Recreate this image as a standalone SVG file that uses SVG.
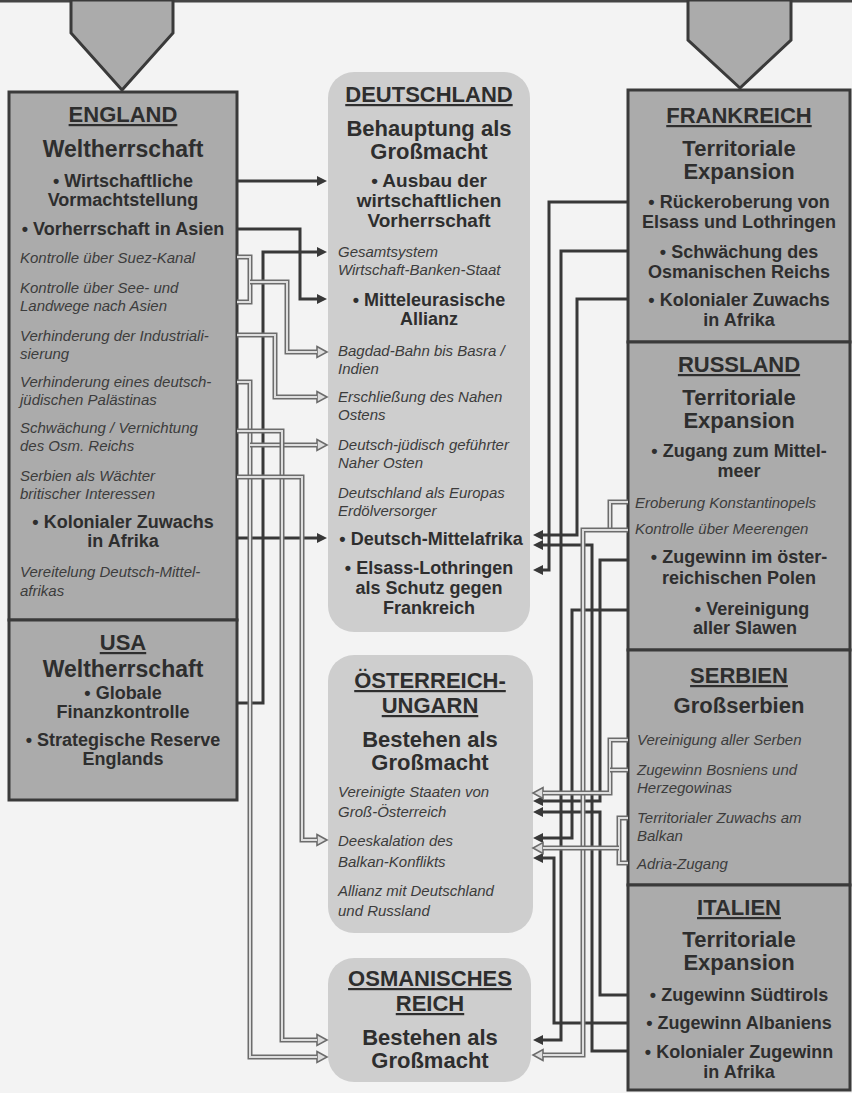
<svg xmlns="http://www.w3.org/2000/svg" xmlns:xlink="http://www.w3.org/1999/xlink" width="852" height="1093" viewBox="0 0 852 1093">
<style>
text{font-family:"Liberation Sans",Arial,sans-serif;fill:#2e2e2e}
.t{font-size:22px;font-weight:bold;text-anchor:middle;text-decoration:underline}
.h{font-size:22px;font-weight:bold;text-anchor:middle}
.b{font-size:18px;font-weight:bold;text-anchor:middle}
.b19{font-size:19px;font-weight:bold;text-anchor:middle}
.i{font-size:15px;font-style:italic;fill:#3c3c3c}
.box{fill:#ababab;stroke:#3a3a3a;stroke-width:3}
.rbox{fill:#cecece}
.d{fill:none;stroke:#383838;stroke-width:3}
.go{fill:none;stroke:#6c6c6c;stroke-width:5}
.gi{fill:none;stroke:#dedede;stroke-width:2}
</style>
<defs>
<marker id="ad" markerUnits="userSpaceOnUse" viewBox="0 0 10 10" refX="0" refY="5" markerWidth="10" markerHeight="10" orient="auto" overflow="visible">
<path d="M0,0 L10,5 L0,10 z" fill="#383838"/>
</marker>
<marker id="ag" markerUnits="userSpaceOnUse" viewBox="0 0 10 10" refX="0" refY="5" markerWidth="10" markerHeight="10" orient="auto" overflow="visible">
<path d="M0,-0.5 L10,5 L0,10.5 z" fill="#dedede" stroke="#6c6c6c" stroke-width="1.6" stroke-linejoin="miter"/>
</marker>
<path id="g1a" d="M237,257 H250 V302 H237"/>
<path id="g1b" d="M250,282 H287 V352 H317"/>
<path id="g2" d="M237,335 H275 V397 H317"/>
<path id="g3a" d="M237,382 H250 V1057 H317"/>
<path id="g3b" d="M250,445 H317"/>
<path id="g4" d="M237,431 H282 V1040 H317"/>
<path id="g5" d="M237,477 H302 V840 H317"/>
<path id="h1a" d="M628,502 H610 V530"/>
<path id="h1b" d="M628,530 H583 V1055 H543"/>
<path id="h2a" d="M628,740 H610 V793 H543"/>
<path id="h2b" d="M628,770 H610"/>
<path id="h3a" d="M628,818 H619 V863 H628"/>
<path id="h3b" d="M619,848 H543"/>
</defs>
<rect width="852" height="1093" fill="#f3f3f3"/>
<line x1="0" y1="1" x2="852" y2="1" stroke="#444" stroke-width="3"/>
<g id="pointer-left"><polygon points="71,0 173,0 173,33 122,90 71,33" class="box"/></g>
<g id="pointer-right"><polygon points="688,0 791,0 791,40 740,88 688,40" class="box"/></g>

<g id="deutschland">
<rect x="328" y="72" width="202" height="560" rx="26" class="rbox"/>
<text x="429" y="102" class="t">DEUTSCHLAND</text>
<text x="429" y="136" class="h">Behauptung als</text>
<text x="429" y="159" class="h">Großmacht</text>
<text x="429" y="187" class="b19">• Ausbau der</text>
<text x="429" y="207" class="b19">wirtschaftlichen</text>
<text x="429" y="227" class="b19">Vorherrschaft</text>
<text x="338" y="257" class="i">Gesamtsystem</text>
<text x="338" y="275" class="i">Wirtschaft-Banken-Staat</text>
<text x="429" y="306" class="b">• Mitteleurasische</text>
<text x="429" y="325" class="b">Allianz</text>
<text x="338" y="356" class="i">Bagdad-Bahn bis Basra /</text>
<text x="338" y="374" class="i">Indien</text>
<text x="338" y="402" class="i">Erschließung des Nahen</text>
<text x="338" y="420" class="i">Ostens</text>
<text x="338" y="450" class="i">Deutsch-jüdisch geführter</text>
<text x="338" y="468" class="i">Naher Osten</text>
<text x="338" y="498" class="i">Deutschland als Europas</text>
<text x="338" y="516" class="i">Erdölversorger</text>
<text x="431" y="545" class="b">• Deutsch-Mittelafrika</text>
<text x="429" y="574" class="b">• Elsass-Lothringen</text>
<text x="429" y="594" class="b">als Schutz gegen</text>
<text x="429" y="614" class="b">Frankreich</text>
</g>

<g id="oesterreich-ungarn">
<rect x="328" y="655" width="205" height="278" rx="26" class="rbox"/>
<text x="430" y="688" class="t">ÖSTERREICH-</text>
<text x="430" y="713" class="t">UNGARN</text>
<text x="430" y="747" class="h">Bestehen als</text>
<text x="430" y="770" class="h">Großmacht</text>
<text x="338" y="797" class="i">Vereinigte Staaten von</text>
<text x="338" y="817" class="i">Groß-Österreich</text>
<text x="338" y="846" class="i">Deeskalation des</text>
<text x="338" y="867" class="i">Balkan-Konflikts</text>
<text x="338" y="896" class="i">Allianz mit Deutschland</text>
<text x="338" y="916" class="i">und Russland</text>
</g>

<g id="osmanisches-reich">
<rect x="328" y="958" width="203" height="124" rx="26" class="rbox"/>
<text x="430" y="986" class="t">OSMANISCHES</text>
<text x="430" y="1011" class="t">REICH</text>
<text x="430" y="1045" class="h">Bestehen als</text>
<text x="430" y="1068" class="h">Großmacht</text>
</g>

<g id="england">
<rect x="9" y="92" width="228" height="528" class="box"/>
<text x="123" y="122" class="t">ENGLAND</text>
<text x="123" y="157" class="h" style="font-size:23px">Weltherrschaft</text>
<text x="123" y="187" class="b">• Wirtschaftliche</text>
<text x="123" y="206" class="b">Vormachtstellung</text>
<text x="123" y="235" class="b">• Vorherrschaft in Asien</text>
<text x="20" y="263" class="i">Kontrolle über Suez-Kanal</text>
<text x="20" y="293" class="i">Kontrolle über See- und</text>
<text x="20" y="311" class="i">Landwege nach Asien</text>
<text x="20" y="341" class="i">Verhinderung der Industriali-</text>
<text x="20" y="359" class="i">sierung</text>
<text x="20" y="387" class="i">Verhinderung eines deutsch-</text>
<text x="20" y="405" class="i">jüdischen Palästinas</text>
<text x="20" y="433" class="i">Schwächung / Vernichtung</text>
<text x="20" y="451" class="i">des Osm. Reichs</text>
<text x="20" y="481" class="i">Serbien als Wächter</text>
<text x="20" y="499" class="i">britischer Interessen</text>
<text x="123" y="528" class="b">• Kolonialer Zuwachs</text>
<text x="123" y="547" class="b">in Afrika</text>
<text x="20" y="577" class="i">Vereitelung Deutsch-Mittel-</text>
<text x="20" y="596" class="i">afrikas</text>
</g>

<g id="usa">
<rect x="9" y="620" width="228" height="180" class="box"/>
<text x="123" y="650" class="t">USA</text>
<text x="123" y="677" class="h" style="font-size:23px">Weltherrschaft</text>
<text x="123" y="699" class="b">• Globale</text>
<text x="123" y="718" class="b">Finanzkontrolle</text>
<text x="123" y="746" class="b">• Strategische Reserve</text>
<text x="123" y="765" class="b">Englands</text>
</g>

<g id="frankreich">
<rect x="628" y="90" width="222" height="252" class="box"/>
<text x="739" y="123" class="t">FRANKREICH</text>
<text x="739" y="156" class="h">Territoriale</text>
<text x="739" y="179" class="h">Expansion</text>
<text x="739" y="208" class="b">• Rückeroberung von</text>
<text x="739" y="228" class="b">Elsass und Lothringen</text>
<text x="739" y="258" class="b">• Schwächung des</text>
<text x="739" y="278" class="b">Osmanischen Reichs</text>
<text x="739" y="306" class="b">• Kolonialer Zuwachs</text>
<text x="739" y="326" class="b">in Afrika</text>
</g>

<g id="russland">
<rect x="628" y="342" width="222" height="308" class="box"/>
<text x="739" y="372" class="t">RUSSLAND</text>
<text x="739" y="405" class="h">Territoriale</text>
<text x="739" y="428" class="h">Expansion</text>
<text x="739" y="457" class="b">• Zugang zum Mittel-</text>
<text x="739" y="477" class="b">meer</text>
<text x="635" y="508" class="i">Eroberung Konstantinopels</text>
<text x="635" y="534" class="i">Kontrolle über Meerengen</text>
<text x="739" y="563" class="b">• Zugewinn im öster-</text>
<text x="739" y="584" class="b">reichischen Polen</text>
<text x="752" y="615" class="b">• Vereinigung</text>
<text x="745" y="634" class="b">aller Slawen</text>
</g>

<g id="serbien">
<rect x="628" y="650" width="222" height="235" class="box"/>
<text x="739" y="683" class="t">SERBIEN</text>
<text x="739" y="713" class="h">Großserbien</text>
<text x="637" y="745" class="i">Vereinigung aller Serben</text>
<text x="637" y="775" class="i">Zugewinn Bosniens und</text>
<text x="637" y="793" class="i">Herzegowinas</text>
<text x="637" y="823" class="i">Territorialer Zuwachs am</text>
<text x="637" y="841" class="i">Balkan</text>
<text x="637" y="869" class="i">Adria-Zugang</text>
</g>

<g id="italien">
<rect x="628" y="885" width="222" height="205" class="box"/>
<text x="739" y="915" class="t">ITALIEN</text>
<text x="739" y="947" class="h">Territoriale</text>
<text x="739" y="970" class="h">Expansion</text>
<text x="739" y="1001" class="b">• Zugewinn Südtirols</text>
<text x="739" y="1029" class="b">• Zugewinn Albaniens</text>
<text x="739" y="1058" class="b">• Kolonialer Zugewinn</text>
<text x="739" y="1078" class="b">in Afrika</text>
</g>

<g id="connectors">
<path class="d" marker-end="url(#ad)" d="M237,181 H317"/>
<path class="d" marker-end="url(#ad)" d="M237,229 H300 V299 H317"/>
<path class="d" marker-end="url(#ad)" d="M237,703 H263 V252 H317"/>
<path class="d" marker-end="url(#ad)" d="M237,538 H317"/>
<use xlink:href="#g1a" class="go"/><use xlink:href="#g1a" class="gi"/>
<use xlink:href="#g1b" class="go" marker-end="url(#ag)"/><use xlink:href="#g1b" class="gi"/>
<use xlink:href="#g2" class="go" marker-end="url(#ag)"/><use xlink:href="#g2" class="gi"/>
<use xlink:href="#g3a" class="go" marker-end="url(#ag)"/><use xlink:href="#g3a" class="gi"/>
<use xlink:href="#g3b" class="go" marker-end="url(#ag)"/><use xlink:href="#g3b" class="gi"/>
<use xlink:href="#g4" class="go" marker-end="url(#ag)"/><use xlink:href="#g4" class="gi"/>
<use xlink:href="#g5" class="go" marker-end="url(#ag)"/><use xlink:href="#g5" class="gi"/>
<path class="d" marker-end="url(#ad)" d="M628,202 H549 V570 H543"/>
<path class="d" marker-end="url(#ad)" d="M628,251 H561 V1040 H543"/>
<path class="d" marker-end="url(#ad)" d="M628,299 H577 V535 H543"/>
<path class="d" marker-end="url(#ad)" d="M628,1051 H592 V545 H543"/>
<path class="d" marker-end="url(#ad)" d="M628,560 H600 V801 H543"/>
<path class="d" marker-end="url(#ad)" d="M628,610 H572 V838 H543"/>
<path class="d" marker-end="url(#ad)" d="M628,995 H600 V812 H543"/>
<path class="d" marker-end="url(#ad)" d="M628,1023 H554 V858 H543"/>
<use xlink:href="#h1a" class="go"/><use xlink:href="#h1a" class="gi"/>
<use xlink:href="#h1b" class="go" marker-end="url(#ag)"/><use xlink:href="#h1b" class="gi"/>
<use xlink:href="#h2a" class="go" marker-end="url(#ag)"/><use xlink:href="#h2a" class="gi"/>
<use xlink:href="#h2b" class="go"/><use xlink:href="#h2b" class="gi"/>
<use xlink:href="#h3a" class="go"/><use xlink:href="#h3a" class="gi"/>
<use xlink:href="#h3b" class="go" marker-end="url(#ag)"/><use xlink:href="#h3b" class="gi"/>
</g>
</svg>
